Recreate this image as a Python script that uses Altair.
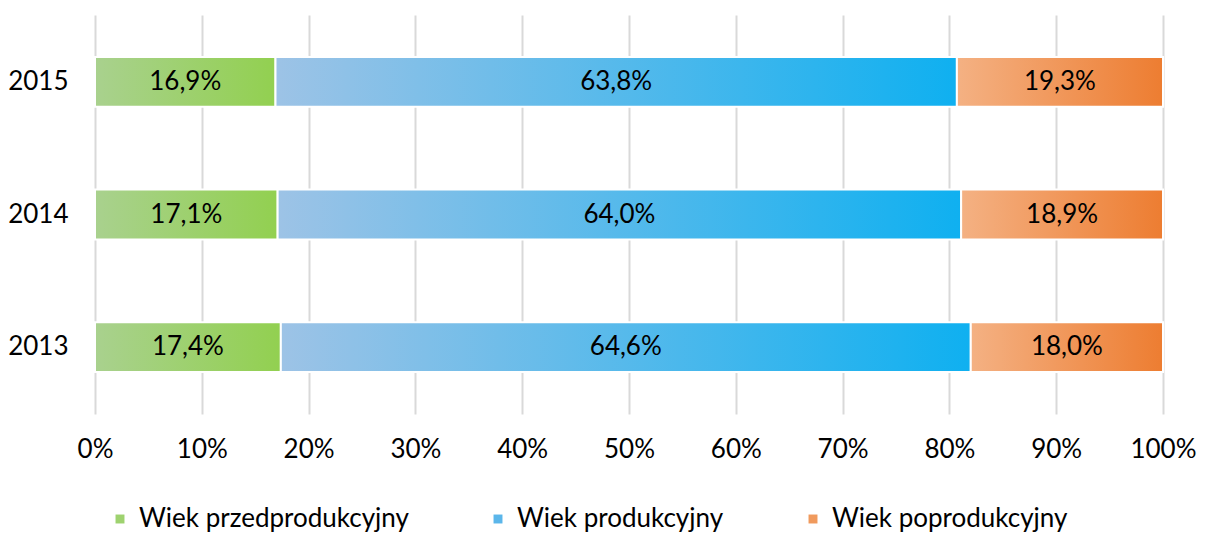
import altair as alt
import pandas as pd

years = ["2015", "2014", "2013"]
categories = ["Wiek przedprodukcyjny", "Wiek produkcyjny", "Wiek poprodukcyjny"]
pre = [16.9, 17.1, 17.4]
prod = [63.8, 64.0, 64.6]
post = [19.3, 18.9, 18.0]
x_ticks = [0, 10, 20, 30, 40, 50, 60, 70, 80, 90, 100]

grad_light = ["#a9d18e", "#9dc3e6", "#f4b183"]
grad_dark = ["#92d050", "#0fb0f0", "#ed7d31"]
legend_colors = ["#9ed26f", "#5bb6ea", "#f09a5d"]

rows = []
for i, y in enumerate(years):
    for k, (cat, vals) in enumerate(zip(categories, [pre, prod, post])):
        rows.append({"year": y, "category": cat, "order": k, "value": vals[i]})
df = pd.DataFrame(rows)

FONT = "Lato"

base = alt.Chart(df).transform_stack(
    stack="value", groupby=["year"], as_=["x0", "x1"],
    sort=[alt.SortField("order", order="ascending")]
)

y_enc = alt.Y("year:N", sort=years, title=None,
              scale=alt.Scale(paddingInner=0.624, paddingOuter=0.316),
              axis=alt.Axis(domain=False, ticks=False, labelFont=FONT, labelFontSize=26,
                            labelColor="#000000", labelPadding=27, grid=False))
x_enc = alt.X("x0:Q", title=None,
              scale=alt.Scale(domain=[0, 100], nice=False),
              axis=alt.Axis(values=x_ticks, labelExpr="datum.value + '%'", domain=False,
                            ticks=False, grid=True, gridColor="#d9d9d9", gridWidth=2,
                            labelFont=FONT, labelFontSize=26, labelColor="#000000",
                            labelPadding=22, labelFlush=False, labelOverlap=False))

layers = []
for k, cat in enumerate(categories):
    grad = alt.Gradient(gradient="linear", x1=0, x2=1, y1=0, y2=0,
                        stops=[alt.GradientStop(color=grad_light[k], offset=0),
                               alt.GradientStop(color=grad_dark[k], offset=1)])
    layers.append(
        base.transform_filter(alt.datum.category == cat)
        .mark_bar(fill=grad, stroke="white", strokeWidth=2)
        .encode(x=x_enc, x2="x1:Q", y=y_enc)
    )

texts = base.transform_calculate(
    mid="(datum.x0 + datum.x1) / 2",
    label="replace(format(datum.value, '.1f'), '.', ',') + '%'"
).mark_text(font=FONT, fontSize=26, color="#000000").encode(
    x="mid:Q", y=alt.Y("year:N", sort=years), text="label:N"
)

legend_layer = base.transform_filter("false").mark_square(size=0).encode(
    x="x0:Q", y=alt.Y("year:N", sort=years),
    color=alt.Color("category:N", scale=alt.Scale(domain=categories, range=legend_colors),
                    legend=alt.Legend(title=None, orient="none", direction="horizontal",
                                      legendX=12, legendY=491, columns=3,
                                      symbolType="square", symbolSize=80,
                                      symbolStrokeWidth=0, symbolOpacity=1,
                                      labelFont=FONT, labelFontSize=26, labelColor="#000000",
                                      labelOffset=6, columnPadding=76, labelLimit=400))
)

chart = alt.layer(*layers, texts, legend_layer).properties(
    width=1068, height=399,
    autosize=alt.AutoSizeParams(type="none"),
    padding={"left": 87, "top": 7, "right": 35, "bottom": 120},
).configure_view(stroke=None)

chart.save("out.html", embed_options={"renderer": "svg", "actions": False})
